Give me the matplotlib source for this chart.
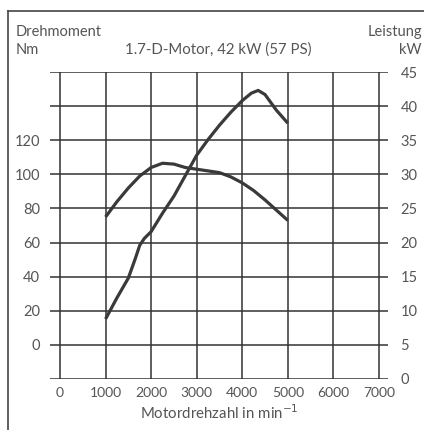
import matplotlib
matplotlib.use('Agg')
import matplotlib.pyplot as plt
from matplotlib.lines import Line2D

# Drehmoment (Nm) und Leistung (kW) ueber Motordrehzahl
rpm_torque = [1000, 1250, 1500, 1750, 2000, 2250, 2500, 2750, 3000, 3250, 3500, 3750, 4000, 4250, 4500, 4750, 5000]
torque = [75, 84, 92, 99, 104, 106.5, 106, 104, 103, 102, 101, 98.5, 95, 90.5, 85, 79, 73]

rpm_power = [1000, 1250, 1500, 1650, 1750, 1850, 2000, 2250, 2500, 2750, 3000, 3250, 3500, 3750, 4000, 4200, 4350, 4500, 4750, 5000]
power = [8.8, 11.9, 14.8, 17.6, 19.6, 20.6, 21.6, 24.3, 26.8, 29.8, 32.8, 35.1, 37.2, 39.1, 40.8, 41.9, 42.3, 41.7, 39.4, 37.5]

x_ticks = [0, 1000, 2000, 3000, 4000, 5000, 6000, 7000]
nm_ticks = [0, 20, 40, 60, 80, 100, 120]
kw_ticks = [0, 5, 10, 15, 20, 25, 30, 35, 40, 45]

grid_col = '#333333'
curve_col = '#3a3a3a'
text_col = '#555555'

plt.rcParams['font.family'] = ['Lato', 'DejaVu Sans']

fig = plt.figure(figsize=(4.24, 4.30), dpi=100)
ax = fig.add_axes([50 / 424, 1 - 379 / 430, 338 / 424, 307 / 430])
ax2 = ax.twinx()

ax.set_xlim(-220, 7200)
ax.set_ylim(-20, 160)
ax2.set_ylim(0, 45)

# Gitter: waagerecht ueber die volle Breite, senkrecht nur bei den Drehzahlen
for k in kw_ticks:
	ax2.axhline(k, color=grid_col, lw=1.1, zorder=1)
for x in x_ticks:
	ax.axvline(x, color=grid_col, lw=1.1, zorder=1)

ax.plot(rpm_torque, torque, color=curve_col, lw=2.3, solid_capstyle='butt', solid_joinstyle='round', zorder=3)
ax2.plot(rpm_power, power, color=curve_col, lw=2.3, solid_capstyle='butt', solid_joinstyle='round', zorder=3)

for a in (ax, ax2):
	for s in a.spines.values():
		s.set_visible(False)

ax.set_xticks(x_ticks)
ax.set_xticklabels([str(x) for x in x_ticks])
ax.set_yticks(nm_ticks)
ax.set_yticklabels([str(v) for v in nm_ticks])
ax2.set_yticks(kw_ticks)
ax2.set_yticklabels([str(v) for v in kw_ticks])
ax.tick_params(axis='x', length=0, pad=6, labelsize=10, colors=text_col)
ax.tick_params(axis='y', length=0, pad=7, labelsize=10.5, colors=text_col)
ax2.tick_params(axis='y', length=0, pad=9, labelsize=10.5, colors=text_col)

ax.set_xlabel('Motordrehzahl in min$^{-1}$', fontsize=10.8, color=text_col, labelpad=3)

# Kopfzeilen
fig.text(16 / 424, 1 - 32 / 430, 'Drehmoment', fontsize=10.5, color=text_col, va='center', ha='left')
fig.text(16 / 424, 1 - 50 / 430, 'Nm', fontsize=10.5, color=text_col, va='center', ha='left')
fig.text(218 / 424, 1 - 50 / 430, '1.7-D-Motor, 42 kW (57 PS)', fontsize=10.8, color=text_col, va='center', ha='center')
fig.text(422 / 424, 1 - 32 / 430, 'Leistung', fontsize=10.5, color=text_col, va='center', ha='right')
fig.text(422 / 424, 1 - 50 / 430, 'kW', fontsize=10.5, color=text_col, va='center', ha='right')

# Rahmen links und oben
fig.add_artist(Line2D([8 / 424, 8 / 424], [0, 1 - 11 / 430], color='#444444', lw=1.2))
fig.add_artist(Line2D([8 / 424, 1], [1 - 11 / 430, 1 - 11 / 430], color='#444444', lw=1.2))

fig.savefig('out.png', dpi=100)
